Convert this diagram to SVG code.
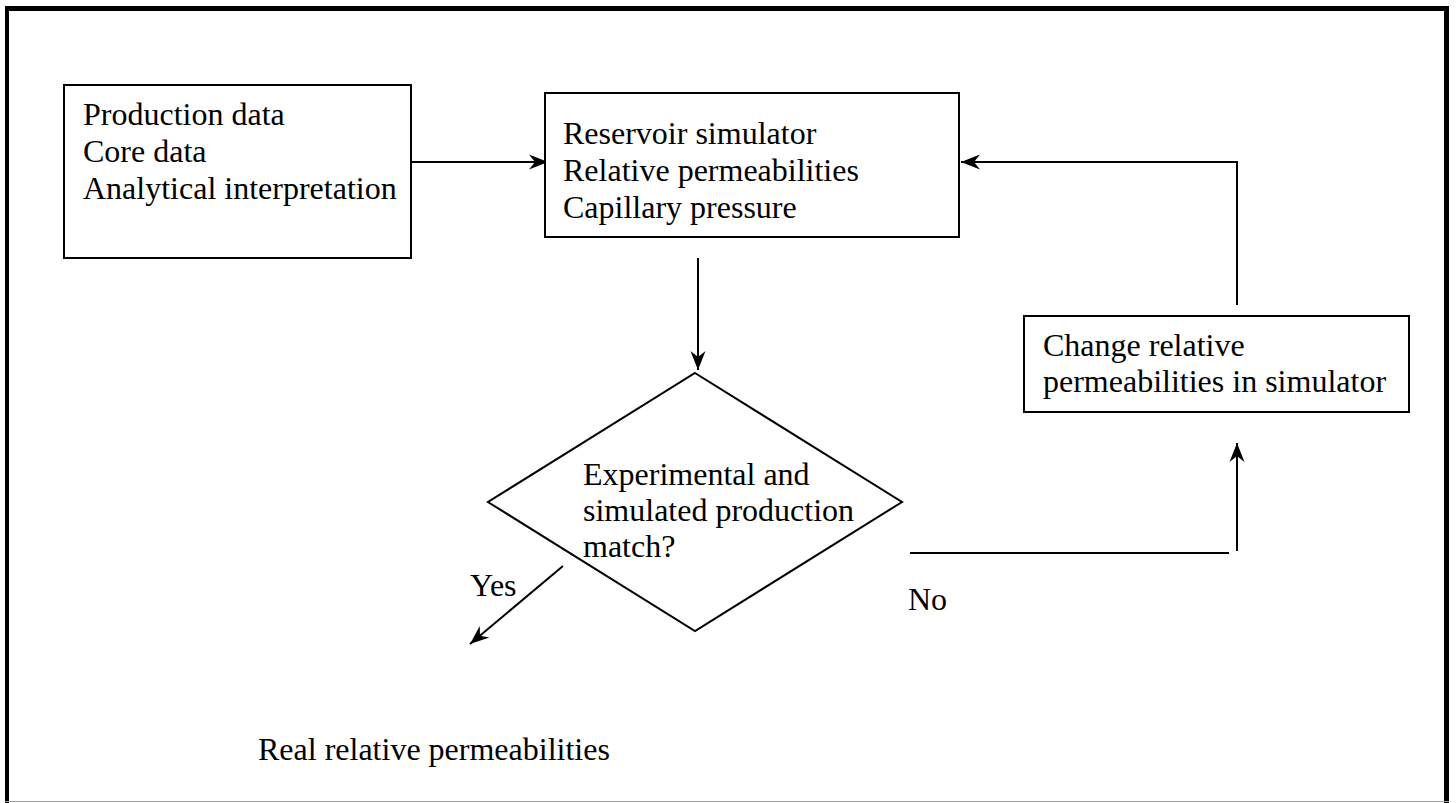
<svg xmlns="http://www.w3.org/2000/svg" width="1456" height="803" viewBox="0 0 1456 803">
<style>
.box{fill:#fff;stroke:#000;stroke-width:2}
.t{font-family:"Liberation Serif","Times New Roman",serif;font-size:32px;fill:#000}
.c{fill:none;stroke:#000;stroke-width:2}
</style>
<defs>
<marker id="ah" markerUnits="userSpaceOnUse" markerWidth="20" markerHeight="18" viewBox="0 0 20 18" refX="19" refY="9" orient="auto">
<path d="M0,1.5 L19,9 L0,16.5 L6,9 Z" fill="#000"/>
</marker>
</defs>
<rect width="1456" height="803" fill="#fff"/>
<g id="frame">
<rect x="5" y="6" width="1444" height="5" fill="#000"/>
<rect x="5" y="6" width="4" height="797" fill="#000"/>
<rect x="1444" y="6" width="5" height="797" fill="#000"/>
<line x1="5" y1="801.5" x2="1449" y2="801.5" stroke="#a0a0a0" stroke-width="1"/>
</g>
<g id="connectors">
<line class="c" x1="411" y1="162" x2="548" y2="162" marker-end="url(#ah)"/>
<polyline class="c" points="1237,305 1237,162 961,162" marker-end="url(#ah)"/>
<line class="c" x1="698" y1="258" x2="698" y2="370" marker-end="url(#ah)"/>
<line class="c" x1="563" y1="566" x2="470" y2="644" marker-end="url(#ah)"/>
<line class="c" x1="910" y1="553" x2="1229" y2="553"/>
<line class="c" x1="1237" y1="551" x2="1237" y2="443" marker-end="url(#ah)"/>
</g>
<g id="inputs">
<rect class="box" x="64" y="85" width="347" height="173"/>
<text class="t" x="83" y="125">Production data</text>
<text class="t" x="83" y="162">Core data</text>
<text class="t" x="83" y="199">Analytical interpretation</text>
</g>
<g id="simulator">
<rect class="box" x="545" y="93" width="414" height="144"/>
<text class="t" x="563" y="144">Reservoir simulator</text>
<text class="t" x="563" y="181">Relative permeabilities</text>
<text class="t" x="563" y="218">Capillary pressure</text>
</g>
<g id="decision">
<polygon class="box" points="695,373 902,502 695,631 488,502"/>
<text class="t" x="583" y="485">Experimental and</text>
<text class="t" x="583" y="521">simulated production</text>
<text class="t" x="583" y="557">match?</text>
</g>
<g id="change">
<rect class="box" x="1024" y="316" width="385" height="96"/>
<text class="t" x="1043" y="356">Change relative</text>
<text class="t" x="1043" y="392">permeabilities in simulator</text>
</g>
<g id="labels">
<text class="t" x="470" y="596">Yes</text>
<text class="t" x="908" y="610">No</text>
<text class="t" x="258" y="760">Real relative permeabilities</text>
</g>
</svg>
